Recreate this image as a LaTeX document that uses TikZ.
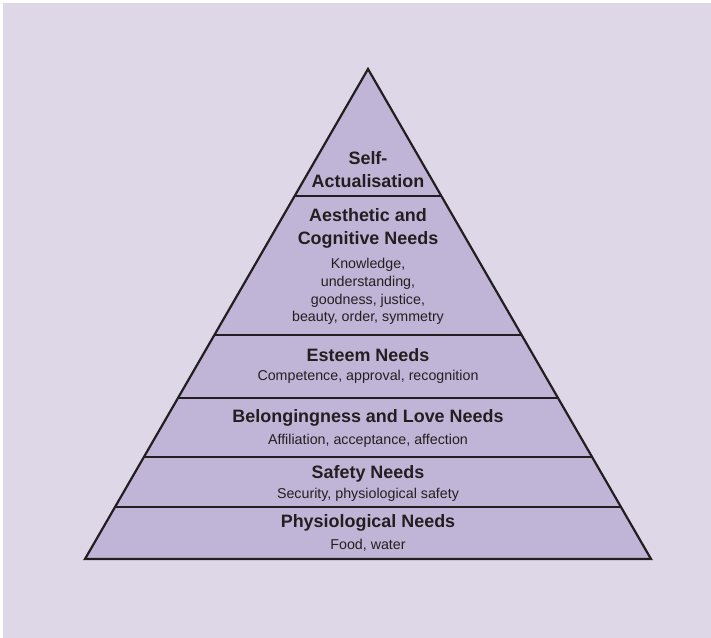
\documentclass[tikz,border=0pt]{standalone}
\usepackage{fontspec}
\setmainfont{Liberation Sans}

\definecolor{bgpurple}{RGB}{221,215,232}
\definecolor{tierpurple}{RGB}{192,181,214}
\definecolor{inkgray}{RGB}{35,31,32}

\begin{document}
\begin{tikzpicture}[x=1bp, y=-1bp,
	title/.style={font=\fontsize{18}{23}\selectfont\bfseries, text=inkgray, align=center, inner sep=0pt},
	detail/.style={font=\fontsize{14.3}{17.7}\selectfont, text=inkgray, align=center, inner sep=0pt},
	tierline/.style={line width=2.2bp, draw=inkgray}]
	\useasboundingbox (0,0) rectangle (711,638);
	\fill[bgpurple] (3,3) rectangle (711,638);

	\coordinate (apex) at (368,69);
	\coordinate (baseL) at (85,559);
	\coordinate (baseR) at (651,559);

	% pyramid body and the cuts between the tiers
	\fill[tierpurple] (apex) -- (baseL) -- (baseR) -- cycle;
	\begin{scope}
		\clip (apex) -- (baseL) -- (baseR) -- cycle;
		\foreach \y in {196,335,398,457,507}
			\draw[tierline] (0,\y) -- (711,\y);
	\end{scope}
	\draw[tierline, line join=miter] (apex) -- (baseL) -- (baseR) -- cycle;

	\node[title] (selfact) at (368,170) {Self-\\Actualisation};

	\node[title] (aesth) at (368,228.5) {Aesthetic and\\Cognitive Needs};
	\node[detail] (aesth-sub) at (368,291.5) {Knowledge,\\understanding,\\goodness, justice,\\beauty, order, symmetry};

	\node[title] (esteem) at (368,355) {Esteem Needs};
	\node[detail] (esteem-sub) at (368,377) {Competence, approval, recognition};

	\node[title] (belong) at (368,418) {Belongingness and Love Needs};
	\node[detail] (belong-sub) at (368,441) {Affiliation, acceptance, affection};

	\node[title] (safety) at (368,474) {Safety Needs};
	\node[detail] (safety-sub) at (368,495) {Security, physiological safety};

	\node[title] (physio) at (368,523) {Physiological Needs};
	\node[detail] (physio-sub) at (368,545) {Food, water};
\end{tikzpicture}
\end{document}
